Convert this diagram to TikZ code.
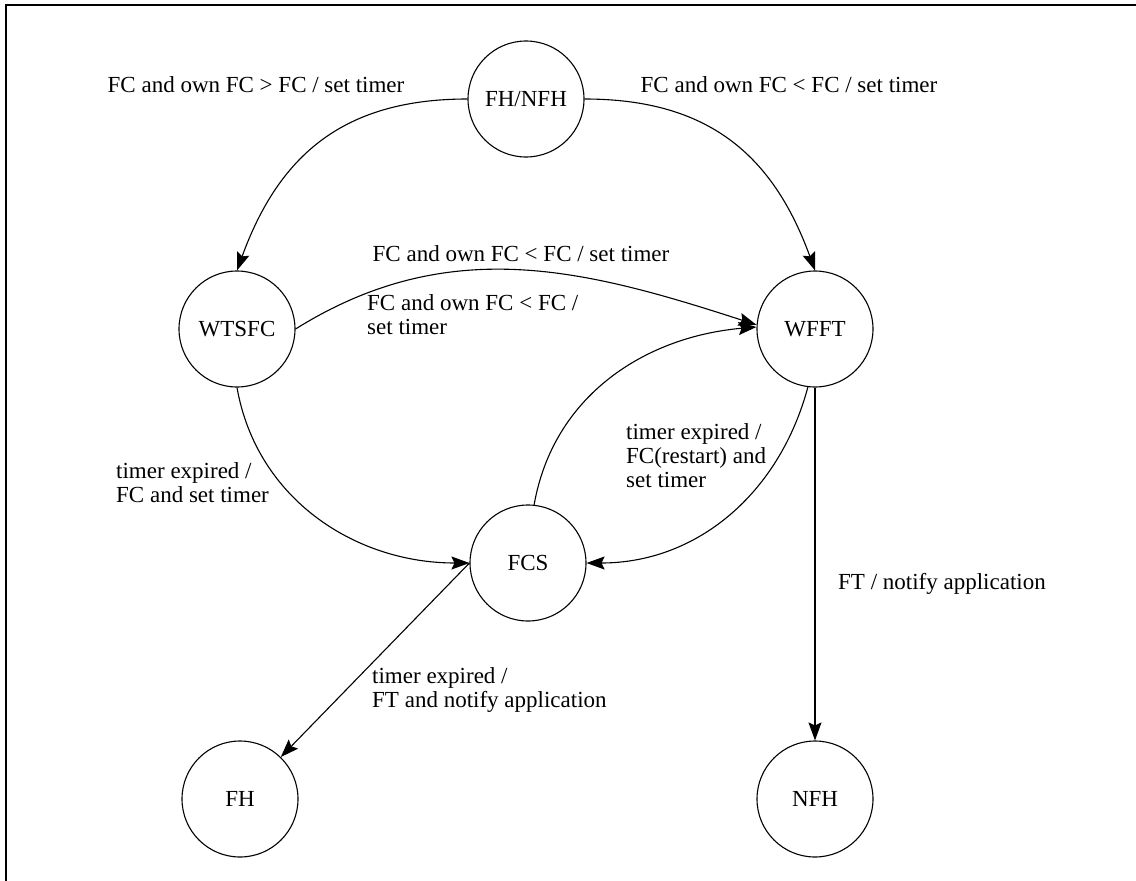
\documentclass[tikz,border=0pt]{standalone}
\usepackage{fontspec}
\setmainfont{Liberation Serif}
\usetikzlibrary{arrows.meta}
\begin{document}
\begin{tikzpicture}[x=1pt,y=1pt,
  state/.style={draw, circle, line width=1.1pt, minimum size=116pt, inner sep=0pt,
    font=\fontsize{23}{24}\selectfont},
  trans/.style={line width=1.1pt, -{Stealth[length=18pt,width=13pt,inset=3pt]}},
  lbl/.style={inner sep=0pt, font=\fontsize{23}{24}\selectfont, align=left}]
\useasboundingbox (0,0) rectangle (1136,-881);
% open frame along the top and left edges
\draw[line width=1.4pt] (6,-881) -- (6,-5) -- (1136,-5);

% states
\node[state] (fhnfh) at (526,-99) {FH/NFH};
\node[state] (wtsfc) at (237,-329) {WTSFC};
\node[state] (wfft)  at (815,-329) {WFFT};
\node[state] (fcs)   at (528,-563) {FCS};
\node[state] (fh)    at (240,-799) {FH};
\node[state] (nfh)   at (815,-799) {NFH};

% transitions
\draw[trans] (fhnfh.west) to[out=180,in=70,looseness=1.1] (wtsfc.north);
\draw[trans] (fhnfh.east) to[out=0,in=110,looseness=1.1] (wfft.north);
\draw[trans] (wtsfc.east) to[out=32,in=162] (wfft.176);
\draw[trans] (fcs.84) to[out=80,in=185] (wfft.178);
\draw[trans] (wtsfc.south) to[out=-80,in=180] (fcs.west);
\draw[trans] (wfft.263) to[out=255,in=0] (fcs.east);
\draw[trans] (fcs.west) -- (fh);
\draw[trans] (wfft.south) -- (nfh.north);

% transition labels
\node[lbl, anchor=base] (l1) at (256,-92) {FC and own FC > FC / set timer};
\node[lbl, anchor=base] (l2) at (789,-92) {FC and own FC < FC / set timer};
\node[lbl, anchor=base] (l3) at (521,-261) {FC and own FC < FC / set timer};
\node[lbl, anchor=west] (l4) at (367,-315) {FC and own FC < FC /\\set timer};
\node[lbl, anchor=west] (l5) at (116,-483) {timer expired /\\FC and set timer};
\node[lbl, anchor=west] (l6) at (626,-456) {timer expired /\\FC(restart) and\\set timer};
\node[lbl, anchor=west] (l7) at (372,-690) {timer expired /\\FT and notify application};
\node[lbl, anchor=base west] (l8) at (838,-589) {FT / notify application};
\end{tikzpicture}
\end{document}
